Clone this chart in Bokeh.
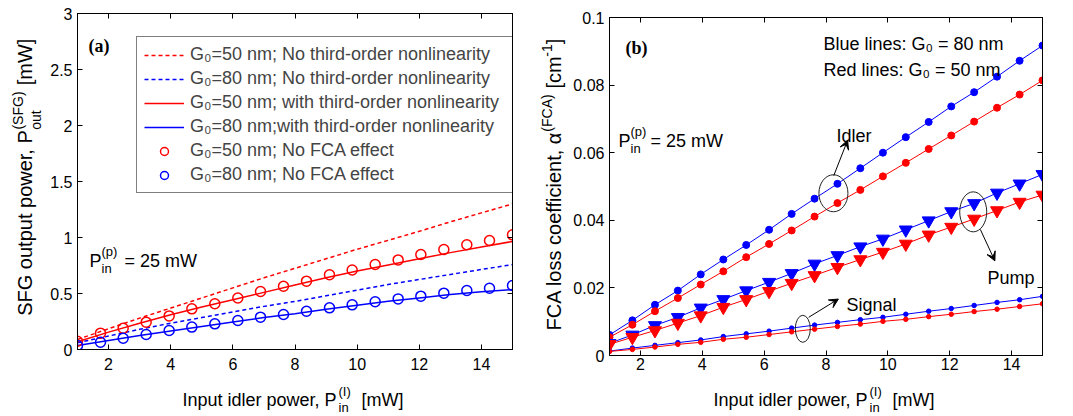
from math import pi
from bokeh.plotting import figure
from bokeh.layouts import row, column
from bokeh.models import (Legend, LegendItem, Label, LinearAxis, Arrow, VeeHead,
                          FixedTicker, Range1d)
from bokeh.embed import file_html
from bokeh.resources import INLINE

FONT = "Liberation Sans"
RED = "#ff0000"
BLUE = "#0000ff"

# ---------------- data: panel (a) SFG output power [mW] ----------------
x_line = [1, 2, 3, 4, 5, 6, 7, 8, 9, 10, 11, 12, 13, 14, 15]
sfg_no3rd_g50 = [0.09, 0.185, 0.28, 0.37, 0.46, 0.55, 0.64, 0.725, 0.81, 0.895, 0.975, 1.055, 1.14, 1.22, 1.30]
sfg_no3rd_g80 = [0.06, 0.12, 0.18, 0.235, 0.285, 0.335, 0.385, 0.43, 0.48, 0.53, 0.58, 0.625, 0.67, 0.715, 0.758]
sfg_with3rd_g50 = [0.07, 0.155, 0.235, 0.31, 0.38, 0.445, 0.51, 0.575, 0.64, 0.70, 0.755, 0.81, 0.865, 0.915, 0.965]
sfg_with3rd_g80 = [0.035, 0.08, 0.125, 0.165, 0.205, 0.245, 0.285, 0.32, 0.36, 0.395, 0.43, 0.46, 0.49, 0.515, 0.535]

x_mark = [1.00, 1.74, 2.47, 3.21, 3.95, 4.68, 5.42, 6.16, 6.89, 7.63,
          8.37, 9.11, 9.84, 10.58, 11.32, 12.05, 12.79, 13.53, 14.26, 15.00]
sfg_nofca_g50 = [0.074, 0.146, 0.19, 0.244, 0.30, 0.363, 0.408, 0.46, 0.518, 0.565,
                 0.61, 0.667, 0.71, 0.759, 0.80, 0.848, 0.893, 0.935, 0.973, 1.024]
sfg_nofca_g80 = [0.035, 0.065, 0.10, 0.134, 0.17, 0.20, 0.229, 0.259, 0.289, 0.313,
                 0.342, 0.372, 0.399, 0.426, 0.452, 0.476, 0.503, 0.527, 0.547, 0.571]

# ---------------- data: panel (b) FCA loss coefficient [cm^-1] ----------------
idler_g80 = [0.0061, 0.0104, 0.015, 0.0192, 0.024, 0.0284, 0.0327, 0.0372, 0.0419, 0.0464,
             0.0508, 0.0554, 0.060, 0.0646, 0.0691, 0.0737, 0.0779, 0.0825, 0.0872, 0.0917]
idler_g50 = [0.0054, 0.0091, 0.0131, 0.017, 0.021, 0.0249, 0.0291, 0.033, 0.037, 0.0411,
             0.0451, 0.049, 0.053, 0.057, 0.0611, 0.0651, 0.0692, 0.0733, 0.0772, 0.0814]
pump_g80 = [0.0036, 0.0061, 0.0089, 0.0113, 0.0141, 0.0166, 0.0192, 0.0217, 0.0243, 0.0271,
            0.0296, 0.0322, 0.0345, 0.0372, 0.0399, 0.0426, 0.045, 0.0481, 0.0508, 0.0536]
pump_g50 = [0.0033, 0.0054, 0.0074, 0.0096, 0.0118, 0.0143, 0.0166, 0.019, 0.0214, 0.0237,
            0.0261, 0.0284, 0.0306, 0.033, 0.0357, 0.038, 0.0404, 0.0429, 0.0454, 0.0475]
signal_g80 = [0.0013, 0.0022, 0.003, 0.0038, 0.0046, 0.0056, 0.0064, 0.0072, 0.0081, 0.009,
              0.0098, 0.0106, 0.0113, 0.0122, 0.0131, 0.0139, 0.0148, 0.0157, 0.0165, 0.0175]
signal_g50 = [0.0012, 0.0018, 0.0025, 0.0033, 0.0039, 0.0048, 0.0054, 0.0062, 0.007, 0.0078,
              0.0086, 0.0093, 0.0101, 0.0107, 0.0115, 0.0122, 0.013, 0.0137, 0.0145, 0.0153]

x_ticks = [2, 4, 6, 8, 10, 12, 14]
ya_ticks = [0, 0.5, 1, 1.5, 2, 2.5, 3]
ya_labels = ["0", "0.5", "1", "1.5", "2", "2.5", "3"]
yb_ticks = [0, 0.02, 0.04, 0.06, 0.08, 0.1]
yb_labels = ["0", "0.02", "0.04", "0.06", "0.08", "0.1"]

legend_labels = [
    "G\u2080=50 nm; No third-order nonlinearity",
    "G\u2080=80 nm; No third-order nonlinearity",
    "G\u2080=50 nm; with third-order nonlinearity",
    "G\u2080=80 nm;with third-order nonlinearity",
    "G\u2080=50 nm; No FCA effect",
    "G\u2080=80 nm; No FCA effect",
]


def style(p, yticks, ylabels, xstandoff):
    p.xgrid.visible = False
    p.ygrid.visible = False
    p.outline_line_color = "black"
    p.outline_line_width = 1
    p.background_fill_color = "white"
    p.border_fill_color = "white"
    for ax in p.xaxis + p.yaxis:
        ax.major_tick_in = 5
        ax.major_tick_out = 0
        ax.minor_tick_line_color = None
        ax.axis_line_color = "black"
        ax.major_tick_line_color = "black"
        ax.major_label_text_font = FONT
        ax.major_label_text_font_size = "16px"
        ax.major_label_text_color = "black"
        ax.axis_label = None
    p.xaxis.ticker = FixedTicker(ticks=x_ticks)
    p.xaxis.major_label_standoff = xstandoff
    p.yaxis.ticker = FixedTicker(ticks=yticks)
    p.yaxis.major_label_overrides = {t: l for t, l in zip(yticks, ylabels)}
    p.yaxis.major_label_standoff = 5
    # mirrored tick marks on the top and right edges (no labels)
    for ticks, side in [(x_ticks, "above"), (yticks, "right")]:
        ax = LinearAxis(ticker=FixedTicker(ticks=ticks), major_label_text_color=None,
                        major_label_text_font_size="1px", major_tick_in=5, major_tick_out=0,
                        major_label_standoff=0, minor_tick_line_color=None,
                        axis_line_color="black", major_tick_line_color="black")
        p.add_layout(ax, side)


def put(p, ox, oy, px, py, text, size=18, angle=0.0, align="left", baseline="alphabetic",
        font=FONT, fstyle="normal"):
    # (px, py): page pixel position; (ox, oy): page position of the frame's bottom-left corner
    p.add_layout(Label(x=px - ox, y=oy - py, x_units="screen", y_units="screen", text=text,
                       text_font=font, text_font_size=f"{size}px", text_font_style=fstyle,
                       text_align=align, text_baseline=baseline, angle=angle,
                       text_color="black"))


def vput(p, ox, oy, px, py, text, size):
    # rotated (bottom-to-top) text piece, positioned by its centre
    put(p, ox, oy, px, py, text, size=size, angle=pi / 2, align="center", baseline="middle")


def strip(w, h):
    f = figure(width=w, height=h, x_range=Range1d(0, 1), y_range=Range1d(0, 1),
               output_backend="svg", toolbar_location=None, min_border=0,
               x_axis_location=None, y_axis_location=None)
    f.grid.visible = False
    f.outline_line_color = None
    f.background_fill_color = "white"
    f.border_fill_color = "white"
    return f


TOP_H = 382
BOT_H = 32
A_LEFT, A_W = 44, 490      # panel (a) figure: page x 44..534
B_STRIP = 34               # panel (b) y-label strip: page x 534..568
B_LEFT, B_W = 568, 504     # panel (b) figure: page x 568..1072

# ================= panel (a) =================
pa = figure(width=A_W, height=TOP_H, x_range=Range1d(1, 15), y_range=Range1d(0, 3),
            output_backend="svg", toolbar_location=None,
            min_border_left=33, min_border_right=22, min_border_top=13, min_border_bottom=33)
style(pa, ya_ticks, ya_labels, 8)

r1 = pa.line(x_line, sfg_no3rd_g50, line_color=RED, line_width=1.5, line_dash="4 3")
r2 = pa.line(x_line, sfg_no3rd_g80, line_color=BLUE, line_width=1.5, line_dash="4 3")
r3 = pa.line(x_line, sfg_with3rd_g50, line_color=RED, line_width=1.5)
r4 = pa.line(x_line, sfg_with3rd_g80, line_color=BLUE, line_width=1.5)
r5 = pa.scatter(x_mark, sfg_nofca_g50, marker="circle", size=10, fill_color=None,
                line_color=RED, line_width=1.5)
r6 = pa.scatter(x_mark, sfg_nofca_g80, marker="circle", size=10, fill_color=None,
                line_color=BLUE, line_width=1.5)

legend = Legend(items=[LegendItem(label=l, renderers=[r]) for l, r in
                       zip(legend_labels, [r1, r2, r3, r4, r5, r6])],
                location=(59, 156), padding=7, spacing=3, glyph_width=40, glyph_height=20,
                label_height=20, label_width=316, label_standoff=6, label_text_font=FONT,
                label_text_font_size="18px", border_line_color="black", border_line_width=1,
                background_fill_color="white", background_fill_alpha=1.0, margin=0)
pa.add_layout(legend)

FLa, FBa = 77, 349
put(pa, FLa, FBa, 88, 45, "(a)", size=18, font="Liberation Serif", fstyle="bold")
put(pa, FLa, FBa, 89, 260, "P")
put(pa, FLa, FBa, 101, 251, "(p)", size=13)
put(pa, FLa, FBa, 101, 268, "in", size=13)
put(pa, FLa, FBa, 124, 260, "= 25 mW")

# y-label strip: Bokeh aligns its frame with panel (a)'s frame (page y 13..349)
ylab_a = strip(A_LEFT, TOP_H)
vput(ylab_a, 0, FBa, 24, 222.5, "SFG output power, P", 20)
vput(ylab_a, 0, FBa, 17, 110, "(SFG)", 14)
vput(ylab_a, 0, FBa, 35, 119.5, "out", 14)
vput(ylab_a, 0, FBa, 24, 61.5, "[mW]", 20)

xlab_a = strip(A_LEFT + A_W, BOT_H)
put(xlab_a, 0, TOP_H + BOT_H, 182, 399, "Input idler power, P")
put(xlab_a, 0, TOP_H + BOT_H, 338, 391, "(I)", size=13)
put(xlab_a, 0, TOP_H + BOT_H, 338, 407, "in", size=13)
put(xlab_a, 0, TOP_H + BOT_H, 361, 399, "[mW]")

# ================= panel (b) =================
pb = figure(width=B_W, height=TOP_H, x_range=Range1d(1, 15), y_range=Range1d(0, 0.1),
            output_backend="svg", toolbar_location=None,
            min_border_left=41, min_border_right=30, min_border_top=17, min_border_bottom=27)
style(pb, yb_ticks, yb_labels, 2)

for ys, col in [(idler_g80, BLUE), (idler_g50, RED)]:
    pb.line(x_mark, ys, line_color=col, line_width=1)
    pb.scatter(x_mark, ys, marker="circle", size=7, fill_color=col, line_color=col)
for ys, col in [(pump_g80, BLUE), (pump_g50, RED)]:
    pb.line(x_mark, ys, line_color=col, line_width=1)
    pb.scatter(x_mark, ys, marker="inverted_triangle", size=13, fill_color=col, line_color=col)
for ys, col in [(signal_g80, BLUE), (signal_g50, RED)]:
    pb.line(x_mark, ys, line_color=col, line_width=1)
    pb.scatter(x_mark, ys, marker="circle", size=4.5, fill_color=col, line_color=col)

# annotation ellipses (centre x, centre y in data units; width/height in px)
pb.ellipse(x=[8.24, 12.76, 7.25], y=[0.048, 0.0425, 0.0079], width=[29, 27, 15],
           height=[37, 40, 27], width_units="screen", height_units="screen",
           fill_color=None, line_color="#222222", line_width=1)
for xs, ys, xe, ye in [(8.25, 0.0532, 8.7, 0.0637), (12.99, 0.0373, 13.46, 0.028),
                       (7.44, 0.0113, 8.40, 0.0167)]:
    pb.add_layout(Arrow(end=VeeHead(size=9, fill_color="black", line_color="black", line_width=1),
                        x_start=xs, y_start=ys, x_end=xe, y_end=ye,
                        line_color="black", line_width=1))

FLb, FBb = 609, 355
put(pb, FLb, FBb, 625, 47, "(b)", size=18, font="Liberation Serif", fstyle="bold")
put(pb, FLb, FBb, 618, 140, "P")
put(pb, FLb, FBb, 630, 131, "(p)", size=13)
put(pb, FLb, FBb, 630, 148, "in", size=13)
put(pb, FLb, FBb, 650, 140, "= 25 mW")
put(pb, FLb, FBb, 823, 43, "Blue lines: G\u2080 = 80 nm")
put(pb, FLb, FBb, 823, 69, "Red lines: G\u2080 = 50 nm")
put(pb, FLb, FBb, 836, 135, "Idler")
put(pb, FLb, FBb, 987, 277, "Pump")
put(pb, FLb, FBb, 846, 304, "Signal")

# y-label strip: Bokeh aligns its frame with panel (b)'s frame (page y 17..355)
OXb = A_LEFT + A_W
ylab_b = strip(B_STRIP, TOP_H)
vput(ylab_b, OXb, FBb, 553, 230.5, "FCA loss coefficient, \u03b1", 20)
vput(ylab_b, OXb, FBb, 546, 112.5, "(FCA)", 14)
vput(ylab_b, OXb, FBb, 553, 72, "[cm", 20)
vput(ylab_b, OXb, FBb, 546, 50, "-1", 14)
vput(ylab_b, OXb, FBb, 553, 41, "]", 20)

xlab_b = strip(B_STRIP + B_W, BOT_H)
put(xlab_b, OXb, TOP_H + BOT_H, 713, 399, "Input idler power, P")
put(xlab_b, OXb, TOP_H + BOT_H, 869, 391, "(I)", size=13)
put(xlab_b, OXb, TOP_H + BOT_H, 869, 407, "in", size=13)
put(xlab_b, OXb, TOP_H + BOT_H, 892, 399, "[mW]")

layout = row(column(row(ylab_a, pa), xlab_a), column(row(ylab_b, pb), xlab_b))
open("out.html", "w").write(file_html(layout, INLINE))
